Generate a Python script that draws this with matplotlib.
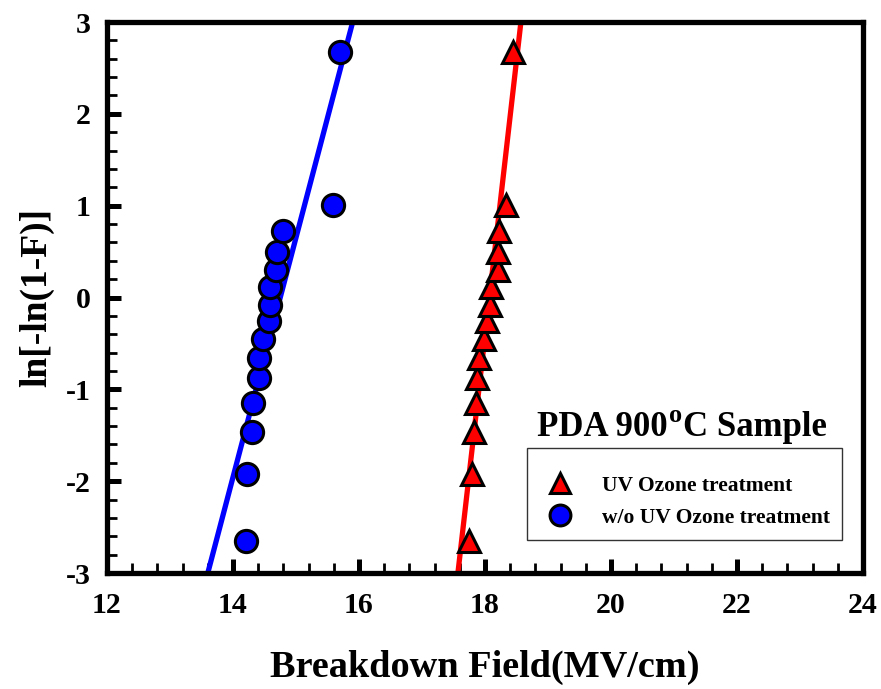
import numpy as np
import matplotlib
matplotlib.use("Agg")
import matplotlib.pyplot as plt
from matplotlib.transforms import offset_copy

plt.rcParams['font.family'] = 'Liberation Serif'
plt.rcParams['font.weight'] = 'bold'
plt.rcParams['axes.unicode_minus'] = False

# Weibull plot values, ln[-ln(1-F)]
weibull_y = [-2.65, -1.92, -1.47, -1.15, -0.88, -0.66, -0.45, -0.26,
             -0.08, 0.11, 0.30, 0.50, 0.72, 1.01, 2.67]

# breakdown fields (MV/cm)
uv_field = [17.74, 17.80, 17.83, 17.85, 17.88, 17.90, 17.98, 18.03,
            18.08, 18.09, 18.20, 18.20, 18.23, 18.33, 18.44]
no_uv_field = [14.20, 14.23, 14.30, 14.31, 14.41, 14.42, 14.47, 14.57,
               14.59, 14.59, 14.69, 14.70, 14.79, 15.59, 15.70]

# fitted lines, given at the y limits
fit_y = [-3, 3]
uv_fit_x = [17.57, 18.57]
no_uv_fit_x = [13.60, 15.90]

fig = plt.figure(figsize=(8.81, 6.89), dpi=100)
ax = fig.add_axes([107/881, 1 - 573/689, (863-107)/881, (573-22)/689])

ax.plot(no_uv_fit_x, fit_y, color='#0000ff', lw=3.8, solid_capstyle='round', zorder=2)
ax.plot(uv_fit_x, fit_y, color='#ff0000', lw=3.8, solid_capstyle='round', zorder=2)

ax.plot(uv_field, weibull_y, ls='none', marker='^', ms=16, mfc='#ff0000',
        mec='black', mew=2.2, label='UV Ozone treatment', zorder=3)
ax.plot(no_uv_field, weibull_y, ls='none', marker='o', ms=16, mfc='#0000ff',
        mec='black', mew=2.2, label='w/o UV Ozone treatment', zorder=3)

ax.set_xlim(12, 24)
ax.set_ylim(-3, 3)
ax.set_xticks(np.arange(12, 25, 2))
ax.set_yticks(np.arange(-3, 4, 1))
ax.set_xticks(np.arange(12, 24.01, 0.4), minor=True)
ax.set_yticks(np.arange(-3, 3.01, 0.2), minor=True)
ax.tick_params(which='major', direction='in', length=10, width=3.6,
               labelsize=21.5, pad=14)
ax.tick_params(which='minor', direction='in', length=7, width=2)
ax.tick_params(axis='y', pad=12)
for s in ax.spines.values():
    s.set_linewidth(3.8)

ax.set_xlabel('Breakdown Field(MV/cm)', fontsize=27.5, fontweight='bold', labelpad=22)
ax.set_ylabel('ln[-ln(1-F)]', fontsize=27, fontweight='bold', labelpad=8)

# sample title with a raised "o" for degrees, pieced together left to right
fig.canvas.draw()
renderer = fig.canvas.get_renderer()
tx, ty = (537-107)/756, 1 - (436-22)/551
t1 = ax.text(tx, ty, 'PDA 900', transform=ax.transAxes, fontsize=25,
             fontweight='bold', ha='left', va='baseline')
w1 = t1.get_window_extent(renderer).width
t2 = ax.text(tx, ty, 'o', fontsize=19, fontweight='bold', ha='left', va='baseline',
             transform=offset_copy(ax.transAxes, fig=fig, x=w1 + 1, y=14, units='dots'))
w2 = t2.get_window_extent(renderer).width
ax.text(tx, ty, 'C Sample', fontsize=25, fontweight='bold', ha='left', va='baseline',
        transform=offset_copy(ax.transAxes, fig=fig, x=w1 + w2 + 2, y=0, units='dots'))

leg = ax.legend(loc='upper left', bbox_to_anchor=((527-107)/756, 1 - (448-22)/551),
                fontsize=15.5, frameon=True, fancybox=False, edgecolor='black',
                borderpad=0.55, handletextpad=0.95, labelspacing=0.55,
                handlelength=2.0, borderaxespad=0, title=' ', title_fontsize=3)
leg.get_frame().set_linewidth(1.0)
for h in leg.legend_handles:
    h.set_markersize(15)

fig.savefig('out.png', dpi=100)
